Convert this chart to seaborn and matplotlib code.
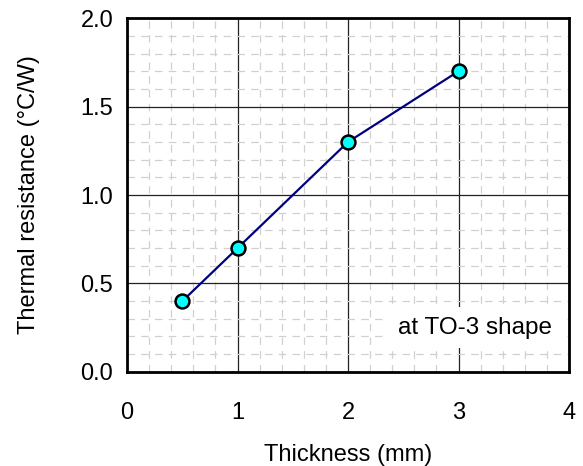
import matplotlib
matplotlib.use("Agg")
import matplotlib.pyplot as plt
import seaborn as sns
import pandas as pd
from matplotlib.ticker import MultipleLocator

sns.set_theme(style="white")
plt.rcParams['font.family'] = ['Liberation Sans', 'DejaVu Sans']
plt.rcParams['text.color'] = 'black'
plt.rcParams['axes.labelcolor'] = 'black'

thickness = [0.5, 1, 2, 3]
resistance = [0.4, 0.7, 1.3, 1.7]
x_ticks = [0, 1, 2, 3, 4]
y_ticks = [0.0, 0.5, 1.0, 1.5, 2.0]
annotation = "at TO-3 shape"

df = pd.DataFrame({"Thickness": thickness, "Resistance": resistance})

fig = plt.figure(figsize=(5.83, 4.66), dpi=100)
ax = fig.add_axes([0.218, 0.202, 0.758, 0.759])

ax.xaxis.set_minor_locator(MultipleLocator(0.2))
ax.yaxis.set_minor_locator(MultipleLocator(0.1))
ax.grid(which="minor", color="#d0d0d0", linestyle=(0, (6, 5)), linewidth=0.9, zorder=0)
ax.grid(which="major", color="#222222", linestyle="-", linewidth=0.9, zorder=1)
ax.set_axisbelow(True)

sns.lineplot(data=df, x="Thickness", y="Resistance", ax=ax, color="#000080",
             linewidth=1.6, marker="o", markersize=10, markerfacecolor="#00ffff",
             markeredgecolor="black", markeredgewidth=1.8, zorder=3)

ax.set_xlim(0, 4)
ax.set_ylim(0, 2)
ax.set_xticks(x_ticks)
ax.set_xticklabels([str(v) for v in x_ticks])
ax.set_yticks(y_ticks)
ax.set_yticklabels([f"{v:.1f}" for v in y_ticks])
ax.tick_params(axis="both", which="major", labelsize=17, length=0, colors="black")
ax.tick_params(axis="x", pad=22)
ax.tick_params(axis="y", pad=10)
ax.tick_params(which="minor", length=0)

ax.set_xlabel("Thickness (mm)", fontsize=17, labelpad=14)
ax.set_ylabel("Thermal resistance (\u00b0C/W)", fontsize=17, labelpad=29)

for s in ax.spines.values():
    s.set_visible(True)
    s.set_color("black")
    s.set_linewidth(2)

ax.text(3.15, 0.25, annotation, fontsize=17.5, ha="center", va="center", zorder=4,
        bbox=dict(facecolor="white", edgecolor="none", pad=7))

fig.savefig("out.png", dpi=100)
